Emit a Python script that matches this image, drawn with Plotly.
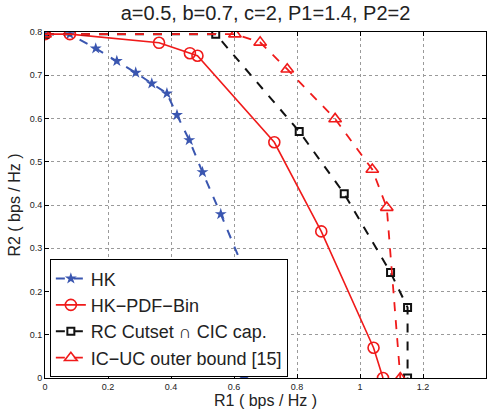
import plotly.graph_objects as go

hk_r1 = [0.0, 0.079, 0.161, 0.228, 0.288, 0.339, 0.387, 0.419, 0.458, 0.500, 0.558, 0.632, 0.632]
hk_r2 = [0.795, 0.795, 0.762, 0.733, 0.706, 0.681, 0.658, 0.608, 0.550, 0.476, 0.379, 0.250, 0.0]

pdf_r1 = [0.0, 0.079, 0.362, 0.460, 0.484, 0.728, 0.877, 1.043, 1.073]
pdf_r2 = [0.795, 0.795, 0.775, 0.751, 0.745, 0.545, 0.339, 0.070, 0.0]

rc_r1 = [0.0, 0.542, 0.807, 0.950, 1.097, 1.151, 1.151]
rc_r2 = [0.795, 0.795, 0.570, 0.426, 0.244, 0.163, 0.0]

ic_r1 = [0.0, 0.603, 0.683, 0.769, 0.921, 1.039, 1.085, 1.128]
ic_r2 = [0.795, 0.795, 0.776, 0.714, 0.599, 0.482, 0.394, 0.0]

names = ["HK", "HK\u2212PDF\u2212Bin", "RC Cutset \u2229 CIC cap.", "IC\u2212UC outer bound [15]"]
x_ticks = [0, 0.2, 0.4, 0.6, 0.8, 1.0, 1.2, 1.4]
x_tick_text = ["0", "0.2", "0.4", "0.6", "0.8", "1", "1.2", "1.4"]
y_ticks = [0, 0.1, 0.2, 0.3, 0.4, 0.5, 0.6, 0.7, 0.8]
y_tick_text = ["0", "0.1", "0.2", "0.3", "0.4", "0.5", "0.6", "0.7", "0.8"]

BLUE = "#3a56b0"
RED = "#f01a1a"
BLACK = "#111111"

fig = go.Figure()
fig.add_trace(go.Scatter(x=hk_r1, y=hk_r2, name=names[0], mode="lines+markers",
                         line=dict(color=BLUE, width=2, dash="dash"),
                         marker=dict(symbol="star", size=9, color=BLUE)))
fig.add_trace(go.Scatter(x=pdf_r1, y=pdf_r2, name=names[1], mode="lines+markers",
                         line=dict(color=RED, width=1.6),
                         marker=dict(symbol="circle-open", size=11, color=RED, line=dict(width=1.6))))
fig.add_trace(go.Scatter(x=rc_r1, y=rc_r2, name=names[2], mode="lines+markers",
                         line=dict(color=BLACK, width=2, dash="dash"),
                         marker=dict(symbol="square-open", size=7, color=BLACK, line=dict(width=2))))
fig.add_trace(go.Scatter(x=ic_r1, y=ic_r2, name=names[3], mode="lines+markers",
                         line=dict(color=RED, width=1.8, dash="dash"),
                         marker=dict(symbol="triangle-up-open", size=11, color=RED, line=dict(width=1.6))))

axis_common = dict(showgrid=True, gridcolor="#9a9a9a", griddash="dot", gridwidth=1,
                   showline=True, linecolor="black", linewidth=1, mirror="ticks",
                   ticks="inside", ticklen=4, tickcolor="black", zeroline=False,
                   automargin=False,
                   tickfont=dict(size=9, color="#222", family="Liberation Sans, Arial"))

fig.update_layout(
    width=490, height=413,
    margin=dict(l=45, r=4, t=32, b=35),
    paper_bgcolor="white", plot_bgcolor="white",
    font=dict(family="Liberation Sans, Arial", color="#222"),
    title=dict(text="a=0.5, b=0.7, c=2, P1=1.4, P2=2", x=0.5, xanchor="center", xref="paper",
               y=0.968, yanchor="middle", font=dict(size=20, color="#222")),
    xaxis=dict(range=[0, 1.4], tickvals=x_ticks, ticktext=x_tick_text, **axis_common),
    yaxis=dict(range=[0, 0.8], tickvals=y_ticks, ticktext=y_tick_text,
               title=dict(text="R2 ( bps / Hz )", font=dict(size=16), standoff=5), **axis_common),
    legend=dict(x=0.011, y=0.002, xanchor="left", yanchor="bottom",
                bgcolor="white", bordercolor="black", borderwidth=1,
                font=dict(size=18, color="#222"), itemwidth=30, tracegroupgap=0),
    showlegend=True,
    annotations=[dict(text="R1 ( bps / Hz )", xref="paper", yref="paper", x=0.5, y=-0.066,
                      xanchor="center", yanchor="middle", showarrow=False,
                      font=dict(size=16, color="#222"))],
)

fig.write_html("out.html", config={"displayModeBar": False},
               post_script="document.body.style.margin='0';document.body.style.padding='0';")
